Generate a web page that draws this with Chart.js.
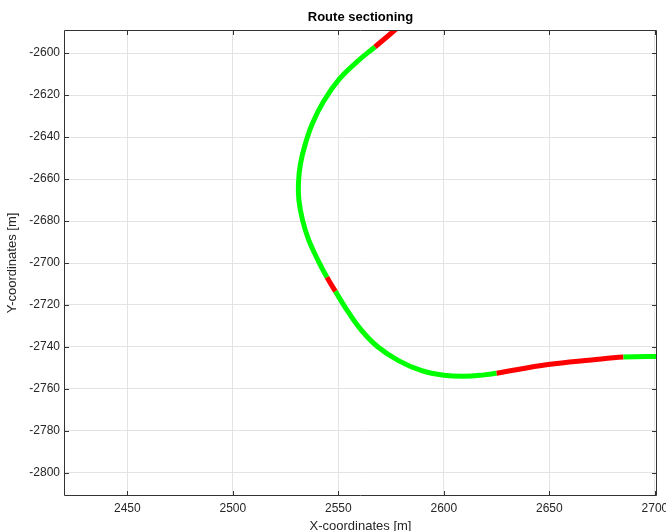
<!DOCTYPE html>
<html>
<head>
<meta charset="utf-8">
<title>Route sectioning</title>
<script src="https://cdn.jsdelivr.net/npm/chart.js@4.4.1/dist/chart.umd.min.js"></script>
<style>
  html, body { margin: 0; padding: 0; background: #fff; }
  #wrap { width: 666px; height: 531px; }
</style>
</head>
<body>
<div id="wrap"><canvas id="routeChart"></canvas></div>
<script>
// route points
const routeX = [2578, 2567.3, 2559.2, 2550.6, 2543.1, 2537.7, 2534.3, 2532, 2531.1, 2531.3,
                2533, 2535.9, 2540.6, 2544.6, 2548.6, 2553.7, 2560.5, 2568.5, 2578.5, 2589.5,
                2600, 2609.7, 2619.2, 2625, 2649.4, 2670, 2685.1, 2703];
const routeY = [-2588, -2597.1, -2603.8, -2612.2, -2622.8, -2633.5, -2643.4, -2653, -2662, -2670,
                -2679.4, -2688.9, -2699.2, -2706.8, -2713.5, -2721.8, -2731.5, -2739.8, -2746.5, -2751.3,
                -2753.5, -2754, -2753.3, -2752.5, -2748.4, -2746.2, -2744.8, -2744.5];

// sections: index of first point, and whether the section is flagged (red)
const sectionStart = [0, 1, 13, 14, 23, 26];
const sectionFlagged = [true, false, true, false, true, false];

const xTicks = [2450, 2500, 2550, 2600, 2650, 2700];
const yTicks = [-2600, -2620, -2640, -2660, -2680, -2700, -2720, -2740, -2760, -2780, -2800];

const points = routeX.map((x, i) => ({ x: x, y: routeY[i] }));

function flaggedAt(idx) {
    let flag = sectionFlagged[0];
    sectionStart.forEach((s, k) => { if (idx >= s) flag = sectionFlagged[k]; });
    return flag;
}

const axisColor = '#333333';
const textColor = '#262626';
const font = 'Liberation Sans, Arial, sans-serif';

// MATLAB style box with inward ticks
const boxPlugin = {
    id: 'box',
    afterDraw(chart) {
        const { ctx, chartArea: a, scales } = chart;
        const len = 5;
        ctx.save();
        ctx.strokeStyle = axisColor;
        ctx.lineWidth = 1;
        ctx.beginPath();
        ctx.rect(a.left + 0.5, a.top + 0.5, a.right - a.left - 1, a.bottom - a.top - 1);
        xTicks.forEach(v => {
            const px = Math.round(scales.x.getPixelForValue(v)) + 0.5;
            ctx.moveTo(px, a.bottom); ctx.lineTo(px, a.bottom - len);
            ctx.moveTo(px, a.top); ctx.lineTo(px, a.top + len);
        });
        yTicks.forEach(v => {
            const py = Math.round(scales.y.getPixelForValue(v)) + 0.5;
            ctx.moveTo(a.left, py); ctx.lineTo(a.left + len, py);
            ctx.moveTo(a.right, py); ctx.lineTo(a.right - len, py);
        });
        ctx.stroke();
        ctx.restore();
    }
};

function fixBox(width, height) {
    return function (scale) {
        if (width !== null) scale.width = width;
        if (height !== null) scale.height = height;
        scale.paddingLeft = 0; scale.paddingRight = 0;
        scale.paddingTop = 0; scale.paddingBottom = 0;
    };
}

const ctx = document.getElementById('routeChart').getContext('2d');
const routeChart = new Chart(ctx, {
    type: 'scatter',
    data: {
        datasets: [{
            label: 'Route',
            data: points,
            showLine: true,
            tension: 0.4,
            borderWidth: 5,
            pointRadius: 0,
            borderCapStyle: 'butt',
            clip: 0,
            segment: {
                borderColor: c => flaggedAt(c.p0DataIndex) ? '#ff0000' : '#00ff00'
            },
            borderColor: '#00ff00'
        }]
    },
    options: {
        responsive: true,
        maintainAspectRatio: false,
        animation: false,
        layout: { padding: { top: 0, right: 9, bottom: 0, left: 0 } },
        plugins: {
            legend: { display: false },
            tooltip: { enabled: false },
            title: {
                display: true,
                text: 'Route sectioning',
                fullSize: false,
                color: '#000',
                font: { family: font, size: 13, weight: 'bold' },
                padding: { top: 10, bottom: 4.4 }
            }
        },
        scales: {
            x: {
                type: 'linear',
                min: 2420,
                max: 2701,
                afterBuildTicks: s => { s.ticks = xTicks.map(v => ({ value: v })); },
                afterFit: fixBox(null, 35),
                grid: { color: '#e3e3e3', drawTicks: false },
                border: { display: false },
                ticks: {
                    color: textColor, font: { family: font, size: 12 }, padding: 5, maxRotation: 0,
                    callback: v => String(v)
                },
                title: {
                    display: true,
                    text: 'X-coordinates [m]',
                    color: textColor,
                    font: { family: font, size: 13 },
                    padding: { top: 0, bottom: -3 }
                }
            },
            y: {
                type: 'linear',
                min: -2811,
                max: -2589,
                afterBuildTicks: s => { s.ticks = yTicks.map(v => ({ value: v })); },
                afterFit: fixBox(64, null),
                grid: { color: '#e3e3e3', drawTicks: false },
                border: { display: false },
                ticks: {
                    color: textColor, font: { family: font, size: 12 }, padding: 4,
                    callback: v => String(v)
                },
                title: {
                    display: true,
                    text: 'Y-coordinates [m]',
                    color: textColor,
                    font: { family: font, size: 13 },
                    padding: { top: 5, bottom: 0 }
                }
            }
        }
    },
    plugins: [boxPlugin]
});
</script>
</body>
</html>
